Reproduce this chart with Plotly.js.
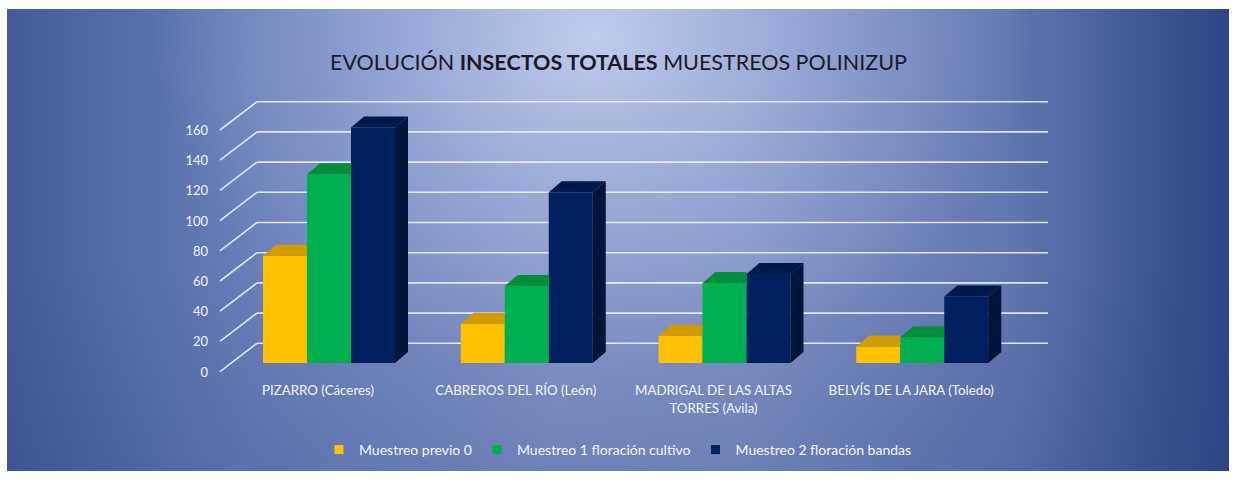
<!DOCTYPE html>
<html><head><meta charset="utf-8">
<script src="https://cdn.plot.ly/plotly-3.0.1.min.js"></script>
<style>html,body{margin:0;padding:0;background:#fff;} #chart{width:1237px;height:481px;}</style>
</head><body><div id="chart"></div>
<script>
// ---------- data ----------
const categories = ['PIZARRO (Cáceres)', 'CABREROS DEL RÍO (León)', 'MADRIGAL DE LAS ALTAS<br>TORRES (Avila)', 'BELVÍS DE LA JARA (Toledo)'];
const seriesNames = ['Muestreo previo 0', 'Muestreo 1 floración cultivo', 'Muestreo 2 floración bandas'];
const muestreoPrevio0 = [71, 26, 18, 11];
const muestreo1Cultivo = [125, 51, 53, 17];
const muestreo2Bandas = [156, 113, 59, 44];
const yTickVals = [0, 20, 40, 60, 80, 100, 120, 140, 160];
const titleText = 'EVOLUCIÓN <b>INSECTOS TOTALES</b> MUESTREOS POLINIZUP';

// ---------- styling / geometry ----------
const W = 1237, H = 481;
const frontColors = ['#FFC000', '#00B050', '#002060'];
const topColors = ['#D09C00', '#008E3C', '#00194C'];
const sideColors = ['#B08600', '#007532', '#00143C'];
const plotL = 218, plotR = 1050, plotT = 98, plotB = 375;
const pw = plotR - plotL, ph = plotB - plotT;
const catPx = 197.75, cat0Px = 329;       // px per category, centre of first category
const zeroPx = 363, ppu = 1.51;            // px of value 0, px per unit
const xRange = [(plotL - cat0Px) / catPx, (plotR - cat0Px) / catPx];
const yRange = [-(plotB - zeroPx) / ppu, (zeroPx - plotT) / ppu];
const bargap = 0.3325;
const series = [muestreoPrevio0, muestreo1Cultivo, muestreo2Bandas];
const nS = series.length;
const bw = (1 - bargap) / nS;
const depthX = 13 / catPx, depthY = 11 / ppu;
const xs = categories.map((_, i) => i);
const fontFam = 'Lato, "Open Sans", sans-serif';

const traces = [];
// front faces
series.forEach((vals, k) => {
  traces.push({
    type: 'bar', x: xs, y: vals, name: seriesNames[k],
    marker: {color: frontColors[k], line: {width: 0}},
    showlegend: false, hoverinfo: 'y+name'
  });
});
// top and side faces
series.forEach((vals, k) => {
  const tx = [], ty = [], sx = [], sy = [];
  vals.forEach((v, i) => {
    const L = i - 0.5 * nS * bw + k * bw, R = L + bw;
    const next = k < nS - 1 ? series[k + 1][i] : null;
    if (next !== null && next >= v) {
      tx.push(L, L + depthX, R, R, L, null);
      ty.push(v, v + depthY, v + depthY, v, v, null);
    } else {
      tx.push(L, L + depthX, R + depthX, R, L, null);
      ty.push(v, v + depthY, v + depthY, v, v, null);
      sx.push(R, R, R + depthX, R + depthX, R, null);
      sy.push(0, v, v + depthY, depthY, 0, null);
    }
  });
  traces.push({type: 'scatter', mode: 'lines', x: tx, y: ty, fill: 'toself', fillcolor: topColors[k],
    line: {width: 0, color: topColors[k]}, showlegend: false, hoverinfo: 'skip'});
  if (sx.length) traces.push({type: 'scatter', mode: 'lines', x: sx, y: sy, fill: 'toself', fillcolor: sideColors[k],
    line: {width: 0, color: sideColors[k]}, showlegend: false, hoverinfo: 'skip'});
});
// legend entries
seriesNames.forEach((n, k) => {
  traces.push({type: 'scatter', mode: 'markers', x: [null], y: [null], name: n,
    marker: {symbol: 'square', size: 9, color: frontColors[k]}, hoverinfo: 'skip'});
});

// back-wall gridlines and side diagonals
const px2paperX = p => (p - plotL) / pw;
const backDy = 19.7, frontDy = -8.6;
const shapes = [];
yTickVals.forEach(t => {
  const common = {type: 'line', xref: 'paper', yref: 'y', ysizemode: 'pixel', yanchor: t, layer: 'below',
    line: {color: 'rgba(238,242,252,0.9)', width: 1.6}};
  shapes.push(Object.assign({}, common, {x0: px2paperX(257), x1: px2paperX(1048), y0: backDy, y1: backDy}));
  shapes.push(Object.assign({}, common, {x0: px2paperX(220), x1: px2paperX(257), y0: frontDy, y1: backDy}));
});

// background gradient (layered)
const bgL = 7, bgT = 9, bgR = 1229, bgB = 471;
const svg = `<svg xmlns='http://www.w3.org/2000/svg' width='${bgR-bgL}' height='${bgB-bgT}' viewBox='0 0 ${bgR-bgL} ${bgB-bgT}' preserveAspectRatio='none'>` +
  `<defs>` +
  `<linearGradient id='h' x1='0' y1='0' x2='1' y2='0'>` +
  `<stop offset='0' stop-color='#435b99'/><stop offset='0.2' stop-color='#6a7fb9'/><stop offset='0.45' stop-color='#8595c9'/>` +
  `<stop offset='0.6' stop-color='#8192c6'/><stop offset='0.82' stop-color='#6276b1'/><stop offset='1' stop-color='#2d4584'/></linearGradient>` +
  `<radialGradient id='r' cx='0.48' cy='0.06' r='1' gradientTransform='translate(0.48 0.06) scale(0.36 0.75) translate(-0.48 -0.06)'>` +
  `<stop offset='0' stop-color='#c8d2f0' stop-opacity='0.9'/><stop offset='0.5' stop-color='#b4c0e6' stop-opacity='0.45'/><stop offset='1' stop-color='#a0aedc' stop-opacity='0'/></radialGradient>` +
  `<linearGradient id='v' x1='0' y1='0' x2='0' y2='1'>` +
  `<stop offset='0.55' stop-color='#2a3f80' stop-opacity='0'/><stop offset='1' stop-color='#2a3f80' stop-opacity='0.22'/></linearGradient>` +
  `</defs><rect width='100%' height='100%' fill='url(#h)'/><rect width='100%' height='100%' fill='url(#r)'/><rect width='100%' height='100%' fill='url(#v)'/></svg>`;
const bgSrc = 'data:image/svg+xml;charset=utf-8,' + encodeURIComponent(svg);

const layout = {
  width: W, height: H, autosize: false,
  paper_bgcolor: '#ffffff', plot_bgcolor: 'rgba(0,0,0,0)',
  margin: {l: plotL, r: W - plotR, t: plotT, b: H - plotB, pad: 0},
  barmode: 'group', bargap: bargap, bargroupgap: 0,
  title: {text: titleText, x: 0.5, xanchor: 'center', y: 1 - 62 / H, yanchor: 'middle',
    font: {family: fontFam, size: 21.5, color: '#1a1a28'}},
  xaxis: {range: xRange, tickmode: 'array', tickvals: xs, ticktext: categories, showgrid: false, zeroline: false,
    showline: false, ticks: '', ticklabelshift: -11, ticklabelstandoff: 6,
    tickfont: {family: fontFam, size: 13.3, color: '#f2f4fa'}, fixedrange: true},
  yaxis: {range: yRange, tickmode: 'array', tickvals: yTickVals, showgrid: false, zeroline: false, showline: false,
    ticks: '', ticklabelshift: 9, ticklabelstandoff: 9,
    tickfont: {family: fontFam, size: 13, color: '#f2f4fa'}, fixedrange: true},
  legend: {orientation: 'h', x: px2paperX(618), xanchor: 'center', y: (plotB - 450) / ph, yanchor: 'middle',
    font: {family: fontFam, size: 14, color: '#f4f6fb'}, bgcolor: 'rgba(0,0,0,0)', itemwidth: 30, traceorder: 'normal'},
  shapes: shapes,
  images: [{source: bgSrc, xref: 'paper', yref: 'paper', x: px2paperX(bgL), y: (plotB - bgT) / ph,
    sizex: (bgR - bgL) / pw, sizey: (bgB - bgT) / ph, xanchor: 'left', yanchor: 'top', sizing: 'stretch', layer: 'below'}],
  showlegend: true
};

Plotly.newPlot('chart', traces, layout, {displayModeBar: false, staticPlot: true});
</script>
</body></html>
